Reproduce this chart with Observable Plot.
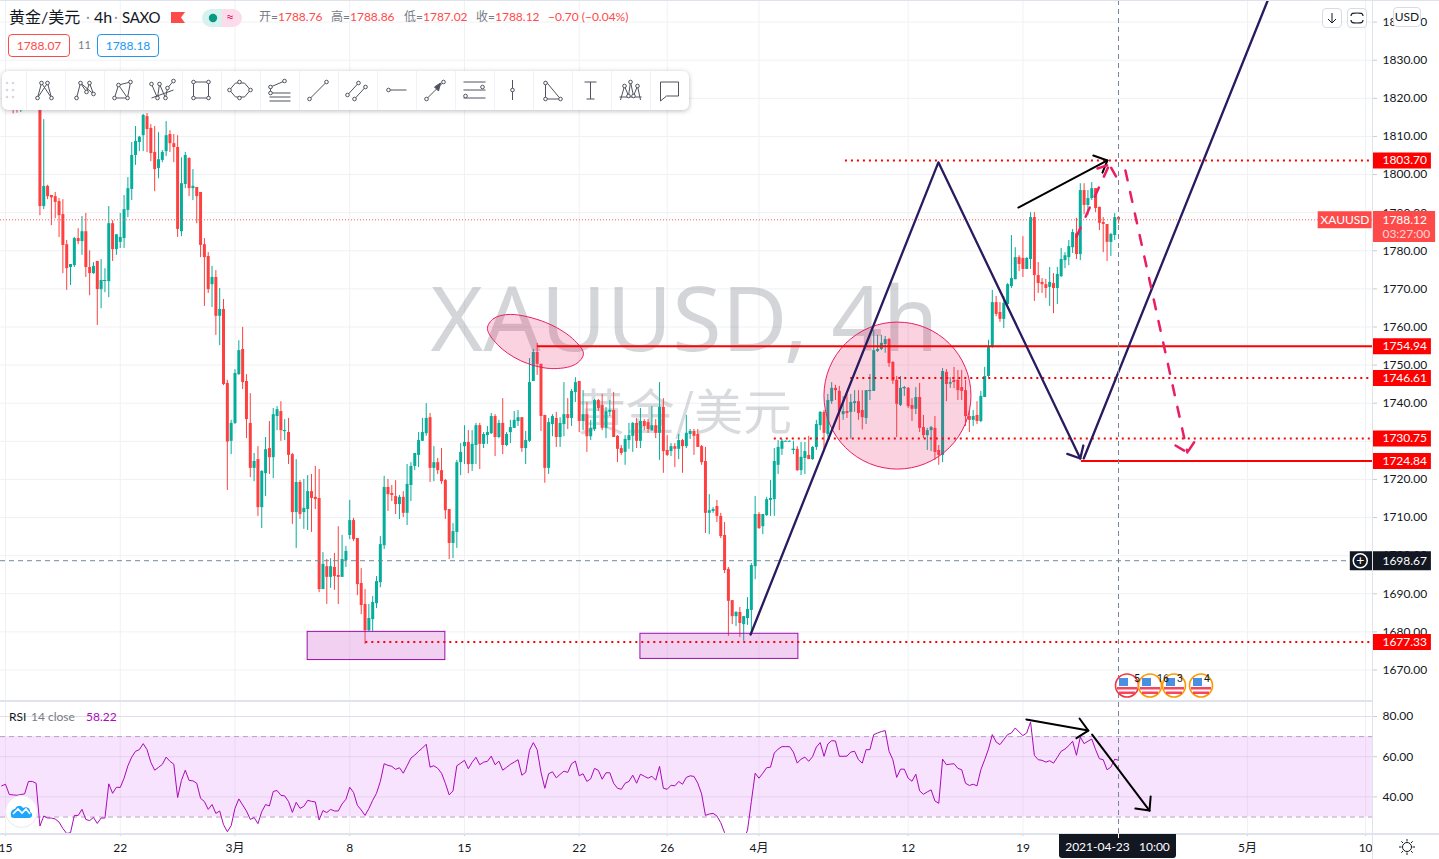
<!DOCTYPE html>
<html lang="zh"><head><meta charset="utf-8">
<script src="https://cdn.jsdelivr.net/npm/d3@7"></script>
<script src="https://cdn.jsdelivr.net/npm/@observablehq/plot@0.6"></script>
<style>
html,body{margin:0;padding:0;background:#fff;width:1439px;height:859px;overflow:hidden;font-family:Lato,"Noto Sans CJK SC",sans-serif;color:#131722}
#c1,#c2{position:absolute;left:0}#c1{top:0}#c2{top:700px}
svg{overflow:visible;font-family:Lato,"Noto Sans CJK SC",sans-serif}
.a{position:absolute;white-space:pre;line-height:1}
.sep{position:absolute;background:#e0e3eb}
#tools{position:absolute;left:2px;top:71px;width:687px;height:39px;background:#fff;border-radius:6px;box-shadow:0 1px 5px rgba(40,45,60,.32)}
.btn{position:absolute;background:#fff;border:1px solid #d8dbe3;border-radius:4px;box-sizing:border-box}
</style></head><body>
<div id="c1"></div><div id="c2"></div>
<div id="ui"></div>
<script>
// ---------- price data: one value per 4h bar
const opens=[1820,1822,1820,1823,1820,1819,1822,1821,1824,1822,
1826,1791.6,1796.9,1794.5,1794.2,1792.9,1789.5,1781.6,1775.6,1776.1,
1783.2,1782.4,1785.0,1775.6,1774.0,1777.2,1769.8,1772.0,1771.9,1787.1,
1780.3,1782.2,1783.2,1790.6,1796.1,1805.0,1808.4,1810.2,1815.2,1812.1,
1805.8,1801.6,1803.7,1806.0,1810.5,1808.1,1807.1,1785.0,1797.4,1804.2,
1796.3,1796.6,1795.3,1781.6,1778.5,1771.1,1773.0,1762.8,1764.6,1745.2,
1730.0,1734.7,1747.5,1754.1,1745.7,1734.7,1722.9,1725.2,1712.6,1721.5,
1728.1,1725.7,1736.5,1737.8,1732.6,1732.3,1726.5,1711.3,1719.2,1711.3,
1712.1,1716.8,1715.3,1715.0,1691.1,1697.1,1694.3,1696.9,1694.8,1694.3,
1698.7,1705.3,1709.2,1704.5,1692.7,1687.2,1680.3,1683.2,1687.4,1692.9,
1702.6,1717.9,1716.3,1715.5,1713.4,1715.3,1711.1,1718.4,1723.4,1726.3,
1730.0,1732.0,1736.2,1722.9,1724.4,1722.3,1719.7,1712.1,1703.2,1706.1,
1724.4,1728.6,1729.7,1723.9,1728.9,1734.1,1729.2,1731.5,1732.0,1736.5,
1731.0,1734.7,1728.9,1732.3,1733.4,1735.2,1736.2,1728.1,1730.0,1745.7,
1753.3,1750.2,1736.8,1722.9,1734.4,1736.0,1731.0,1734.4,1737.0,1736.0,
1742.8,1745.7,1735.2,1737.0,1731.2,1733.1,1740.7,1739.4,1733.4,1737.6,
1738.1,1731.3,1728.1,1727.1,1730.2,1731.3,1734.7,1730.0,1735.2,1734.9,
1732.8,1734.1,1732.1,1738.9,1727.6,1727.3,1728.6,1727.9,1730.2,1728.6,
1731.8,1732.6,1731.8,1728.6,1724.7,1711.1,1711.6,1712.9,1710.3,1705.3,
1696.4,1688.2,1684.0,1685.1,1681.9,1683.5,1685.6,1697.1,1710.8,1707.6,
1710.5,1714.5,1714.7,1723.7,1727.9,1730.0,1730.0,1727.6,1727.9,1722.3,
1725.5,1726.3,1725.2,1728.4,1734.1,1737.6,1731.8,1740.4,1743.9,1743.1,
1737.0,1737.8,1737.6,1739.9,1740.4,1738.1,1736.0,1743.1,1743.1,1753.6,
1754.1,1755.4,1756.7,1750.7,1746.0,1739.4,1743.8,1743.9,1739.4,1738.4,
1741.5,1733.6,1731.5,1732.8,1733.4,1727.6,1726.3,1748.1,1745.0,1746.0,
1746.0,1744.1,1743.3,1736.5,1735.5,1736.8,1735.2,1741.5,1747.0,1754.6,
1766.4,1763.8,1762.0,1765.9,1770.6,1772.4,1778.2,1778.0,1775.1,1777.7,
1788.7,1773.5,1771.7,1771.1,1770.4,1771.4,1770.1,1773.2,1777.4,1778.2,
1780.8,1784.5,1779.0,1795.8,1791.9,1793.7,1796.3,1791.4,1787.4,1786.9,
1782.2,1784.0,1788.76];
const highs=[1824,1823,1825,1824,1822,1823,1824,1825,1825,1827,
1827,1814.4,1797.2,1794.5,1795.3,1793.7,1793.4,1782.7,1776.4,1783.5,
1785.8,1789.0,1789.8,1780.0,1776.9,1777.2,1777.7,1775.3,1791.6,1787.9,
1784.2,1789.8,1794.5,1799.2,1808.4,1812.6,1810.0,1815.8,1816.0,1813.1,
1812.6,1811.0,1806.3,1813.9,1811.5,1810.5,1810.2,1804.4,1805.8,1804.4,
1801.3,1796.6,1795.3,1783.2,1779.5,1775.9,1774.8,1770.1,1767.2,1746.0,
1735.5,1748.8,1756.4,1759.9,1747.5,1742.5,1726.8,1728.6,1722.3,1731.0,
1735.2,1738.6,1739.1,1740.4,1735.7,1736.0,1726.8,1725.2,1719.7,1720.0,
1721.0,1721.3,1723.4,1722.6,1700.8,1699.0,1699.2,1700.6,1707.6,1705.3,
1702.4,1714.5,1709.8,1704.5,1696.6,1691.1,1687.2,1689.3,1694.5,1705.0,
1720.8,1720.0,1718.4,1719.7,1715.8,1716.8,1723.9,1724.4,1726.8,1732.3,
1736.0,1739.9,1737.3,1728.6,1725.5,1728.1,1720.0,1712.1,1708.4,1725.0,
1729.4,1734.1,1732.8,1732.8,1734.7,1734.7,1732.3,1733.9,1737.3,1737.0,
1735.5,1741.2,1732.3,1735.5,1737.8,1738.1,1736.2,1732.6,1751.7,1754.1,
1755.7,1750.2,1736.8,1736.0,1737.0,1737.6,1736.2,1745.4,1741.2,1743.6,
1746.7,1745.7,1743.3,1740.2,1735.5,1741.0,1741.0,1742.3,1738.9,1740.7,
1742.8,1731.5,1728.9,1731.5,1734.7,1734.9,1736.0,1738.6,1735.7,1735.7,
1739.1,1735.7,1745.4,1741.2,1731.5,1729.4,1729.4,1731.8,1730.5,1736.8,
1733.1,1733.1,1733.1,1728.9,1728.4,1716.0,1712.6,1714.5,1711.1,1708.7,
1696.9,1688.2,1685.3,1686.4,1684.0,1689.0,1697.9,1715.5,1711.3,1710.8,
1715.3,1719.7,1728.1,1730.2,1730.5,1730.1,1730.1,1730.0,1728.6,1729.7,
1729.7,1731.3,1728.6,1735.5,1737.8,1738.1,1742.3,1745.4,1744.7,1744.4,
1741.7,1742.3,1742.3,1743.3,1743.3,1743.3,1743.3,1747.5,1759.1,1757.8,
1757.8,1757.5,1757.0,1750.9,1747.0,1747.0,1744.4,1744.1,1741.2,1744.1,
1745.2,1736.8,1733.4,1733.9,1736.5,1728.9,1749.1,1748.8,1746.7,1749.4,
1748.6,1748.6,1746.0,1738.1,1738.1,1740.4,1743.1,1749.4,1756.5,1769.6,
1768.0,1766.4,1768.0,1771.4,1784.0,1780.8,1778.7,1783.7,1778.2,1790.0,
1790.0,1776.9,1772.7,1772.5,1775.6,1774.0,1775.6,1780.6,1779.5,1782.7,
1785.6,1788.5,1797.6,1797.6,1795.8,1797.9,1796.3,1791.4,1788.7,1786.9,
1784.5,1789.8,1788.86];
const lows=[1818,1818,1819,1815.9,1816.1,1816.3,1818,1819,1818,1820,
1789.2,1790.8,1793.4,1786.6,1788.4,1783.5,1774.0,1769.6,1770.9,1775.6,
1781.6,1778.8,1773.0,1768.2,1773.8,1760.4,1764.8,1769.0,1767.7,1777.2,
1778.8,1780.6,1780.6,1788.7,1793.2,1802.4,1806.0,1806.0,1805.8,1803.4,
1795.5,1798.9,1803.1,1804.7,1805.8,1803.1,1783.5,1783.7,1796.3,1794.2,
1793.2,1787.1,1778.2,1765.4,1768.8,1765.1,1757.8,1755.1,1744.6,1717.1,
1726.5,1734.4,1747.3,1743.6,1730.7,1720.5,1719.4,1710.3,1707.1,1715.5,
1721.3,1720.2,1732.8,1730.0,1730.2,1723.9,1708.2,1701.9,1709.5,1706.9,
1706.6,1706.1,1712.1,1690.3,1691.1,1687.2,1691.4,1690.9,1687.2,1694.3,
1696.9,1704.2,1703.7,1689.5,1684.5,1676.7,1680.1,1680.1,1686.1,1691.6,
1701.6,1711.6,1714.2,1710.8,1709.5,1710.0,1707.9,1714.2,1722.3,1723.1,
1730.0,1731.3,1719.2,1719.4,1721.3,1718.7,1709.5,1699.0,1699.2,1701.9,
1721.0,1723.9,1721.5,1722.1,1723.9,1722.6,1728.1,1729.2,1731.8,1726.0,
1730.7,1726.5,1728.6,1729.4,1733.4,1733.9,1727.1,1723.9,1729.7,1745.7,
1747.3,1732.6,1719.0,1721.3,1731.2,1728.4,1728.4,1731.2,1733.1,1733.9,
1740.2,1732.3,1732.8,1727.1,1730.2,1732.6,1737.8,1732.8,1730.7,1736.5,
1731.0,1724.4,1726.3,1723.7,1727.9,1727.1,1728.1,1728.1,1732.8,1732.1,
1732.6,1730.7,1725.0,1721.6,1726.0,1726.0,1723.1,1725.2,1721.6,1728.1,
1730.5,1726.3,1728.4,1723.7,1705.8,1705.5,1711.1,1708.7,1704.5,1695.3,
1678.8,1681.9,1681.4,1678.5,1677.5,1681.7,1679.0,1693.7,1706.9,1705.5,
1710.3,1710.3,1710.3,1721.3,1726.3,1729.9,1729.9,1726.5,1722.1,1721.0,
1721.3,1725.2,1725.0,1727.6,1732.8,1727.6,1731.1,1739.7,1740.7,1732.8,
1735.5,1736.0,1730.6,1737.6,1735.5,1733.0,1734.4,1740.7,1743.1,1753.3,
1753.8,1753.1,1749.4,1744.9,1731.0,1739.1,1741.8,1738.6,1735.2,1737.0,
1732.3,1730.7,1727.6,1727.3,1725.0,1723.7,1724.4,1740.4,1743.9,1743.8,
1740.7,1740.7,1733.9,1732.3,1733.9,1734.4,1734.9,1741.5,1746.7,1754.4,
1762.7,1761.2,1759.6,1764.6,1770.1,1772.4,1774.5,1773.0,1775.1,1775.1,
1766.7,1768.8,1768.8,1767.5,1765.4,1763.5,1765.9,1773.0,1775.3,1776.1,
1779.3,1777.7,1777.4,1789.5,1789.2,1793.2,1790.0,1785.3,1779.5,1777.2,
1778.5,1782.7,1787.02];
const closes=[1822,1820,1823,1820,1819,1822,1821,1824,1822,1826,
1791.6,1796.9,1794.2,1793.9,1792.7,1789.2,1781.4,1775.3,1776.4,1783.2,
1782.4,1785.0,1775.6,1774.0,1775.9,1769.8,1772.2,1772.2,1787.1,1780.3,
1784.2,1783.5,1790.8,1796.3,1805.0,1808.7,1809.8,1815.5,1811.8,1805.5,
1801.3,1803.9,1805.8,1810.2,1808.1,1807.1,1785.6,1797.6,1805.0,1796.3,
1796.9,1794.2,1781.4,1778.2,1769.8,1773.0,1762.8,1764.6,1744.9,1729.8,
1734.7,1747.8,1753.8,1745.4,1735.7,1722.9,1724.7,1712.6,1722.1,1727.8,
1725.7,1737.0,1738.3,1732.8,1732.8,1726.3,1711.3,1719.2,1710.8,1712.4,
1716.8,1715.0,1714.7,1691.1,1697.7,1694.3,1697.1,1694.5,1694.3,1699.0,
1701.1,1709.2,1704.2,1692.4,1686.9,1680.3,1683.5,1687.7,1693.2,1702.9,
1717.9,1716.0,1715.8,1713.4,1715.3,1711.1,1718.7,1723.4,1726.8,1730.2,
1732.3,1736.0,1722.9,1724.4,1722.3,1719.4,1711.8,1703.2,1706.3,1724.4,
1727.1,1729.7,1723.9,1729.2,1734.1,1729.2,1731.8,1732.3,1736.5,1731.0,
1734.7,1728.9,1731.8,1733.6,1735.5,1736.2,1728.1,1730.2,1745.4,1753.3,
1750.2,1736.5,1722.9,1734.9,1736.5,1731.0,1734.7,1737.0,1736.0,1743.1,
1745.4,1735.2,1737.0,1731.2,1733.4,1740.7,1738.6,1733.4,1737.8,1738.1,
1731.0,1727.9,1726.8,1730.5,1731.5,1734.7,1730.0,1735.2,1733.9,1733.1,
1734.1,1732.1,1738.9,1727.3,1726.3,1728.6,1727.9,1730.2,1728.6,1732.1,
1732.6,1731.3,1728.4,1724.4,1711.1,1711.8,1712.1,1710.3,1705.0,1696.1,
1688.0,1684.0,1685.1,1682.2,1684.0,1685.9,1697.4,1710.8,1707.1,1710.8,
1714.7,1715.0,1724.7,1728.4,1730.0,1730.0,1730.0,1727.9,1722.3,1725.8,
1727.3,1725.2,1728.4,1734.4,1737.6,1732.1,1740.7,1743.9,1743.3,1737.8,
1737.8,1737.3,1740.2,1740.4,1737.3,1736.2,1743.3,1743.3,1753.8,1754.1,
1755.7,1756.7,1750.4,1745.8,1739.7,1743.9,1744.1,1739.1,1738.4,1741.5,
1733.4,1731.5,1732.8,1733.6,1727.1,1726.3,1748.3,1744.9,1745.4,1745.7,
1743.3,1743.1,1736.5,1735.5,1736.5,1735.2,1741.8,1747.0,1754.6,1766.4,
1763.3,1762.0,1766.2,1771.1,1772.7,1778.2,1776.4,1775.1,1778.0,1788.7,
1773.5,1771.4,1771.1,1770.1,1771.7,1770.1,1773.8,1777.7,1778.7,1781.1,
1784.8,1779.0,1795.8,1791.9,1793.7,1796.3,1791.1,1787.2,1786.9,1782.2,
1784.3,1788.7,1788.12];
const rsi=[45.5,46.3,41.2,41.0,40.8,41.2,41.5,47.7,47.7,46.8,
25.5,30.5,29.5,29.5,29,27.5,24.3,21.8,22.2,30.8,
30.8,33.8,28.8,28.2,29.8,26.8,29.5,29.5,46.5,41.8,
44.8,44.7,49.3,55.5,59.8,62.7,63.5,66.5,63.5,57.2,
53.3,54.7,56.2,59.8,57.7,56.3,39.7,48.2,53.3,48.2,
48,46.8,39.3,37.7,33.8,36.2,31.8,33,26.2,22.7,
25.7,34.3,39,36,33,28.8,29.7,26.7,32.7,36.2,
35.5,42.7,43.2,40.8,40.5,37.7,32.3,37.3,34.3,35.3,
38.3,37.8,37.5,28.5,33.2,32.2,33.8,33,33,36.5,
38.8,44.8,42.2,35.8,33.5,30.8,34.2,38.3,41.8,47.7,
56.5,55.7,55.2,53.7,54.5,51.8,55.5,59.3,60.8,62.7,
64.3,66.2,54.8,55.5,54.2,51.8,46.8,41,43,55.5,
56.8,58.2,54,57.2,59.7,56,57.3,57.7,60.3,56,
57.8,53.3,54.7,56.2,57.3,58.5,50.8,52.2,63.2,67,
63.5,52.3,44.3,51.5,52.5,49.5,51.2,52.8,52.2,56.5,
57.8,50.5,51.5,47.7,49,54.2,53.2,48.8,52,52,
46.8,44.3,43.8,46.8,47.7,50.8,46.8,51.3,50.3,49.3,
50.3,48.3,55.2,44.3,43.8,45.8,45.5,47.7,46.3,49.7,
50.5,50.2,46.8,41.5,30.8,31.5,31.8,30.5,27.2,22.2,
18.5,13.5,11.8,13.5,18.5,23.5,37.7,51.8,49.3,51.8,
54.5,54.8,61.8,63.8,65,65,65,62.3,56.8,58.8,
59.8,57.7,60,64.8,67,60.2,66.3,68,67.8,60.2,
60.2,60.3,62.3,62.7,58.5,56.8,63.5,63.5,71,71.8,
72.5,73,62.7,58.5,49.7,53.8,53.8,49.3,47.8,51.3,
43,41.3,42.5,43.5,38,36.8,58.8,56,56.3,56.5,
54.2,53.5,46.8,45.7,46.3,45.5,53.5,58.5,63.8,71,
67.3,66,68.5,71,71.8,74.3,72.3,70.5,71.8,77.3,
60.7,58.5,58.2,57.3,58,56.8,59.7,62.7,63.8,65.5,
67.7,60.7,69.8,66.5,67.7,68.8,63.5,59,58.5,53.5,
54.8,58.8,58.22];

// ---------- axes
const priceTicks=[1670,1680,1690,1700,1710,1720,1730,1740,1750,1760,1770,1780,1790,1800,1810,1820,1830,1840];
const rsiTicks=[40,60,80];
const timeTickBars=[1,31,61,91,121,151,174,198,237,267,325.7,356.6];
const timeTickLabels=["15","22","3月","8","15","22","26","4月","12","19","5月","10"];

// ---------- drawn horizontal levels (price, first bar, style)
const levelPrices=[1803.70,1754.94,1746.61,1730.75,1724.84,1677.33];
const levelStarts=[220.6,140.1,222,202,282.3,95.2];
const levelSolid=[false,true,false,false,true,false];
const lastPrice=1788.12, crossPrice=1698.67, crossBar=292;
const barIdx=d3.range(opens.length);
const shownBars=barIdx.slice(1);          // the first bar sits under the toolbar's edge
const upBars=shownBars.filter(i=>closes[i]>=opens[i]), downBars=shownBars.filter(i=>closes[i]<opens[i]);
const flatBars=shownBars.filter(i=>Math.abs(closes[i]-opens[i])<0.35);

// ---------- hand-drawn objects, in (bar, price)
const zigA=[[195.8,1679.3],[244.9,1803.2],[282,1725.5]];
const zigAHead=[[278.6,1726.7],[282,1725.5],[282.8,1728.9]];
const zigB=[[282.9,1725.5],[331,1845.67]];
const blackUp=[[265.8,1791.35],[289.1,1803.7]];
const blackUpHead=[[285.4,1805],[289.1,1803.7],[287.8,1800.5]];
const pinkUp=[[281,1783.7],[289.6,1802.6]];
const pinkUpHead=[[286.5,1801.6],[289.6,1802.6],[291.5,1799.2]];
const pinkDown=[[293.8,1801.06],[310,1727.07]];
const pinkDownHead=[[306.9,1728.9],[310,1727.07],[311.9,1729.95]];
const boxA=[80,116,1672.6,1680], boxB=[167,208.3,1672.9,1679.5];
const ovalOutline=[[127,1759.6],[128.6,1762.2],[133,1763.3],[142.2,1761.2],[149.2,1757],[152.1,1753],[150,1750.2],[143.5,1749.1],[135.6,1751.2],[129.6,1755.4]];
const circleCentre=[234.2,1742];
// RSI pane drawings, in (bar, RSI)
const rsiArrowA=[[267.9,78.5],[284.1,73]], rsiHeadA=[[281.8,79],[284.1,73],[281,69.2]];
const rsiArrowB=[[285.1,71],[300.1,33.2]], rsiHeadB=[[296.4,34.2],[300.1,33.2],[300.4,40.2]];

// ---------- colours
const UP="#04ae9b",DOWN="#ff4040",GRID="#f0f1f5",LEVEL="#ff0000",TAG="#ff4a4a",PURPLE="#2a1a60",PINK="#e91e63",CROSS="#758696",AXIS="#131722";
const X=[-0.307,358.4];                  // bars visible across the pane
const TAGL=358.4,TAGR=373.8,TAGR2=374.9,TXT=361;
const xy={x:d=>d[0],y:d=>d[1]};

const tag=(p,txt,col)=>[
 Plot.ruleY([p],{x1:TAGL,x2:TAGR,stroke:col,strokeWidth:16}),
 Plot.text([txt],{x:TXT,y:()=>p,text:d=>d,fill:"#fff",textAnchor:"start",fontSize:12})];

const main=Plot.plot({
 width:1439,height:700,marginLeft:0,marginRight:67,marginTop:0,marginBottom:0,
 style:{background:"transparent",fontSize:"12px",overflow:"visible"},
 x:{domain:X,axis:null},y:{domain:[1661.99,1845.67],axis:null},
 marks:[
  Plot.ruleY(priceTicks,{stroke:GRID}),
  Plot.ruleX(timeTickBars,{stroke:GRID}),
  Plot.text(["XAUUSD, 4h"],{x:178.5,y:1761.2,text:d=>d,fontSize:90,fill:"#787b86",fillOpacity:.32,fontFamily:"Noto Sans"}),
  Plot.text(["黄金/美元"],{x:178.5,y:1737,text:d=>d,fontSize:49,fill:"#787b86",fillOpacity:.28,fontFamily:"Noto Sans CJK SC"}),
  // candles
  Plot.ruleX(upBars,{x:i=>i,y1:i=>lows[i],y2:i=>highs[i],stroke:UP,strokeWidth:1,clip:true}),
  Plot.ruleX(downBars,{x:i=>i,y1:i=>lows[i],y2:i=>highs[i],stroke:DOWN,strokeWidth:1,clip:true}),
  Plot.ruleX(upBars,{x:i=>i,y1:i=>opens[i],y2:i=>closes[i],stroke:UP,strokeWidth:3,clip:true}),
  Plot.ruleX(downBars,{x:i=>i,y1:i=>opens[i],y2:i=>closes[i],stroke:DOWN,strokeWidth:3,clip:true}),
  Plot.ruleY(flatBars,{y:i=>closes[i],x1:i=>i-.4,x2:i=>i+.4,stroke:i=>closes[i]>=opens[i]?UP:DOWN}),
  // last price
  Plot.ruleY([lastPrice],{stroke:"#ff5a5a",strokeWidth:1,strokeDasharray:"1,2"}),
  // shapes
  Plot.line(ovalOutline,{...xy,curve:"catmull-rom-closed",fill:PINK,fillOpacity:.2,stroke:PINK,strokeWidth:1}),
  Plot.dot([circleCentre],{...xy,r:73.5,fill:PINK,fillOpacity:.2,stroke:PINK,strokeWidth:1}),
  ...[boxA,boxB].map(b=>Plot.rect([b],{x1:d=>d[0],x2:d=>d[1],y1:d=>d[2],y2:d=>d[3],fill:"#c743c7",fillOpacity:.25,stroke:"#9c0fa8",strokeWidth:1})),
  // levels
  Plot.ruleY(levelPrices.map((p,i)=>i).filter(i=>!levelSolid[i]),{y:i=>levelPrices[i],x1:i=>levelStarts[i],x2:X[1],stroke:LEVEL,strokeWidth:2,strokeDasharray:"2,4"}),
  Plot.ruleY(levelPrices.map((p,i)=>i).filter(i=>levelSolid[i]),{y:i=>levelPrices[i],x1:i=>levelStarts[i],x2:X[1],stroke:LEVEL,strokeWidth:2}),
  // lines
  ...[zigA,zigAHead,zigB].map(l=>Plot.line(l,{...xy,stroke:PURPLE,strokeWidth:2.3,clip:true})),
  ...[blackUp,blackUpHead].map(l=>Plot.line(l,{...xy,stroke:"#000",strokeWidth:2})),
  ...[pinkUp,pinkDown].map(l=>Plot.line(l,{...xy,stroke:PINK,strokeWidth:2.5,strokeDasharray:"10,12"})),
  ...[pinkUpHead,pinkDownHead].map(l=>Plot.line(l,{...xy,stroke:PINK,strokeWidth:2.5,strokeDasharray:"10,6"})),
  // crosshair
  Plot.ruleY([crossPrice],{stroke:CROSS,strokeDasharray:"5,4"}),
  Plot.ruleX([crossBar],{stroke:CROSS,strokeDasharray:"5,4"}),
  // axis
  Plot.axisY(priceTicks,{anchor:"right",tickFormat:d3.format(".2f"),tickSize:4,tickPadding:6,label:null,fill:AXIS,stroke:"#c8ccd6",fontSize:12}),
  // tags
  ...levelPrices.flatMap(p=>tag(p,p.toFixed(2),LEVEL)),
  Plot.ruleY([1786.4],{x1:TAGL,x2:TAGR2,stroke:TAG,strokeWidth:31}),
  Plot.ruleY([lastPrice],{x1:344.2,x2:358.3,stroke:TAG,strokeWidth:17}),
  Plot.text(["XAUUSD"],{x:351.2,y:lastPrice,text:d=>d,fill:"#fff",fontSize:12}),
  Plot.text([lastPrice.toFixed(2)],{x:TXT,y:lastPrice,text:d=>d,fill:"#fff",textAnchor:"start",fontSize:12}),
  Plot.text(["03:27:00"],{x:TXT,y:1784.27,text:d=>d,fill:"#ffd5d5",textAnchor:"start",fontSize:12}),
  Plot.ruleY([crossPrice],{x1:352.6,x2:TAGR,stroke:AXIS,strokeWidth:19}),
  Plot.text([crossPrice.toFixed(2)],{x:TXT,y:crossPrice,text:d=>d,fill:"#fff",textAnchor:"start",fontSize:12}),
  Plot.dot([[355.2,crossPrice]],{...xy,r:7,fill:AXIS,stroke:"#fff"}),
  Plot.text(["+"],{x:355.2,y:crossPrice,text:d=>d,fill:"#fff",fontSize:14})
 ]});
document.getElementById("c1").append(main);

const lower=Plot.plot({
 width:1439,height:159,marginLeft:0,marginRight:67,marginTop:0,marginBottom:26,
 style:{background:"transparent",fontSize:"12px",overflow:"visible"},
 x:{domain:X,axis:null},y:{domain:[21.8,87.96],axis:null},
 marks:[
  Plot.ruleY(rsiTicks,{stroke:GRID}),
  Plot.ruleX(timeTickBars,{stroke:GRID}),
  Plot.rectY([[30,70]],{x1:X[0],x2:X[1],y1:d=>d[0],y2:d=>d[1],fill:"#f7e3fd"}),
  Plot.ruleY(rsiTicks,{stroke:"#7c5a90",strokeOpacity:.12}),
  Plot.ruleX(timeTickBars,{stroke:"#7c5a90",strokeOpacity:.08,y1:30,y2:70}),
  Plot.ruleY([30,70],{stroke:"#b9a0c4",strokeDasharray:"5,4"}),
  Plot.line(barIdx.map(i=>[i,rsi[i]]),{...xy,stroke:"#ab09b9",strokeWidth:1,clip:true}),
  Plot.ruleX([crossBar],{stroke:CROSS,strokeDasharray:"5,4",y1:21.8,y2:87.96}),
  ...[rsiArrowA,rsiHeadA,rsiArrowB,rsiHeadB].map(l=>Plot.line(l,{...xy,stroke:"#000",strokeWidth:2})),
  Plot.axisY(rsiTicks,{anchor:"right",tickFormat:d3.format(".2f"),tickSize:4,tickPadding:6,label:null,fill:AXIS,stroke:"#c8ccd6",fontSize:12}),
  Plot.axisX(timeTickBars,{anchor:"bottom",tickSize:3,tickPadding:7,label:null,fill:AXIS,stroke:"#c8ccd6",fontSize:12,tickFormat:(d,i)=>timeTickLabels[i]})
 ]});
document.getElementById("c2").append(lower);

// ---------- page furniture: legends, toolbar, buttons
const ui=document.getElementById("ui");
const add=(html)=>ui.insertAdjacentHTML("beforeend",html);
const T=(x,y,s,txt,col="#131722",extra="")=>add(`<div class="a" style="left:${x}px;top:${y}px;font-size:${s}px;color:${col};${extra}">${txt}</div>`);
[[0,0,1439,1],[0,700,1372,2],[0,833,1439,1.5],[1372,0,1,859]].forEach(([x,y,w,h])=>add(`<div class="sep" style="left:${x}px;top:${y}px;width:${w}px;height:${h}px"></div>`));
T(9,9,16,"黄金/美元");T(94,9,16,"4h");T(122,10,15,"SAXO","#131722","letter-spacing:-.3px;");
T(86,9,15,"·","#9598a1");T(114,9,15,"·","#9598a1");
add(`<svg class="a" style="left:171px;top:12px" width="14" height="11"><path d="M0 0H14L10 5.5L14 11H0Z" fill="#ff4a4a"/></svg>`);
add(`<svg class="a" style="left:202px;top:9px" width="40" height="18"><path d="M9 0H20V18H9A9 9 0 0 1 9 0Z" fill="#d6f1ee"/><path d="M20 0H31A9 9 0 0 1 31 18H20Z" fill="#fcdcea"/><circle cx="11" cy="9" r="4.2" fill="#089981"/></svg>`);
T(226,10,14,"≈","#e91e63");
const RD="#ff4a4a",GY="#787b86";
[[259,"开=","1788.76"],[331,"高=","1788.86"],[404,"低=","1787.02"],[476,"收=","1788.12"]].forEach(([x,l,v])=>T(x,11,12,`<span style="color:${GY}">${l}</span>${v}`,RD));
T(548,11,12,"−0.70 (−0.04%)",RD);
add(`<div class="a" style="left:8px;top:34px;width:62px;height:23px;box-sizing:border-box;border:1px solid #ff4a4a;border-radius:4px;color:#ff4a4a;font-size:12px;text-align:center;line-height:21px">1788.07</div>`);
T(78,39,11,"11",GY);
add(`<div class="a" style="left:97px;top:34px;width:62px;height:23px;box-sizing:border-box;border:1px solid #2196f3;border-radius:4px;color:#2196f3;font-size:12px;text-align:center;line-height:21px">1788.18</div>`);
T(9,711,12,"RSI");T(31,711,12,"14 close",GY);T(86,711,12,"58.22","#ab09b9");

// toolbar
const icons=[
 {l:[[[5,20],[9,5],[19,20],[15,5],[5,20]]],d:[[5,20],[9,5],[19,20],[15,5]]},
 {l:[[[5,20],[9,5],[15,14],[18,5],[22,16],[9,5]]],d:[[5,20],[9,5],[15,14],[18,5],[22,16]]},
 {l:[[[4,20],[8,7],[20,4],[17,20],[4,20]],[[8,7],[17,20]]],d:[[4,20],[8,7],[20,4],[17,20]]},
 {l:[[[2,6],[8,20],[10,6],[16,20],[18,10],[24,3]],[[2,20],[24,12]]],d:[[2,6],[8,20],[10,6],[16,20],[18,10],[24,3]]},
 {l:[[[5,4],[5,20],[20,20],[20,4],[5,4]]],d:[[5,4],[5,20],[20,20],[20,4]]},
 {l:[[[2,12],[8,5],[17,5],[23,12],[17,19],[8,19],[2,12]]],d:[[2,12],[12,4],[23,12],[12,20]]},
 {l:[[[4,9],[18,3]],[[4,9],[4,15]],[[3,15],[24,15]],[[3,19],[24,19]],[[3,23],[24,23]]],d:[[4,9],[18,3],[4,15]]},
 {l:[[[4,21],[21,4]]],d:[[4,21],[21,4]]},
 {l:[[[3,17],[14,5]],[[10,21],[21,9]]],d:[[3,17],[14,5],[10,21],[21,9]]},
 {l:[[[5,12],[23,12]]],d:[[5,12]]},
 {l:[[[4,21],[21,4]]],d:[[4,21],[21,4]],p:"M18 5L12 9L16 13Z"},
 {l:[[[2,4],[24,4]],[[2,12],[24,12]],[[2,20],[24,20]]],d:[[21,9],[4,18]]},
 {l:[[[12,2],[12,22]]],d:[[12,12]]},
 {l:[[[6,3],[6,21],[21,21],[6,3]]],d:[[6,5],[6,21],[21,21]]},
 {l:[[[6,4],[18,4]],[[12,4],[12,21]],[[8,21],[16,21]]],d:[]},
 {l:[[[2,19],[24,19]],[[3,22],[7,8],[11,18],[13,4],[16,18],[20,8],[23,22]]],d:[[7,8],[13,4],[20,8],[11,18],[16,18]]},
 {l:[[[4,4],[22,4],[22,18],[10,18],[4,23],[4,4]]],d:[]}
];
let tb=`<div id="tools"><svg width="687" height="39" style="position:absolute;left:0;top:0">`;
[5,11].forEach(x=>[12,19,26].forEach(y=>tb+=`<circle cx="${x}" cy="${y}" r="1.3" fill="#d5d8df"/>`));
icons.forEach((ic,i)=>{
 const ox=24+i*39;
 if(i) tb+=`<rect x="${ox}" y="0" width="1" height="39" fill="#f0f2f7"/>`;
 tb+=`<g transform="translate(${ox+6.5},7)" fill="none" stroke="#50535e" stroke-width="1">`;
 ic.l.forEach(l=>tb+=`<polyline points="${l.join(" ")}"/>`);
 if(ic.p) tb+=`<path d="${ic.p}" fill="#50535e"/>`;
 ic.d.forEach(([x,y])=>tb+=`<circle cx="${x}" cy="${y}" r="1.8" fill="#fff"/>`);
 tb+=`</g>`;
});
tb+=`<rect x="24" y="0" width="1" height="39" fill="#f0f2f7"/></svg></div>`;
add(tb);

// top right controls
add(`<div class="btn" style="left:1322px;top:8px;width:20px;height:20px"><svg width="18" height="18"><path d="M9 4V14M5 10L9 14L13 10" fill="none" stroke="#131722"/></svg></div>`);
add(`<div class="btn" style="left:1347px;top:8px;width:20px;height:20px"><svg width="18" height="18"><path d="M3 7C3 4 5 4 9 4S15 4 15 7M3 11C3 14 5 14 9 14S15 14 15 11" fill="none" stroke="#131722" stroke-width="1.2"/></svg></div>`);
add(`<div class="btn a" style="left:1393px;top:7px;width:28px;height:20px;font-size:12px;text-align:center;line-height:18px;color:#131722">USD</div>`);

// event flags
let fl=`<svg class="a" style="left:1105px;top:668px" width="120" height="34">`;
[[22,"#f23645",29,"5"],[45,"#ff9800",52,"16"],[69,"#ff9800",72,"3"],[96,"#ff9800",99,"4"]].forEach(([cx,c,tx,t])=>{
 fl+=`<circle cx="${cx}" cy="17.5" r="11.5" fill="#fff" stroke="${c}" stroke-width="1.6"/>`+
  `<path d="M${cx-10} 19h20v2.4h-20zM${cx-8} 23.5h16v2.4h-16z" fill="#f4465e"/><rect x="${cx-8}" y="10" width="9" height="8" fill="#4a90e2"/>`;
});
[[22,"#f23645",29,"5"],[45,"#ff9800",52,"16"],[69,"#ff9800",72,"3"],[96,"#ff9800",99,"4"]].forEach(([cx,c,tx,t])=>{
 fl+=`<text x="${tx}" y="14" font-size="10.5" fill="#131722" text-anchor="start" font-family="Roboto">${t}</text>`;
});
add(fl+`</svg>`);

// logo
add(`<svg class="a" style="left:4px;top:794px" width="36" height="36"><circle cx="17.5" cy="17.5" r="16" fill="#fff" stroke="#e8e9ec"/><path d="M7 22C6 17 9 15 11 15C13 11 17 11 19 14C23 12 27 15 26 18C29 19 29 24 25 24H10C8 24 7 23 7 22Z" fill="#1ea7fd"/><path d="M9 20L14 15L18 19L22 15L26 20" fill="none" stroke="#fff" stroke-width="1.6"/></svg>`);

// time tag
add(`<div class="a" style="left:1059px;top:834px;width:117px;height:24px;background:#131722;border-radius:0 0 3px 3px;color:#fff;font-size:12px;text-align:center;line-height:25px">2021-04-23   10:00</div>`);
add(`<div class="a" style="left:1118px;top:834px;width:1px;height:4px;background:#fff"></div>`);
// settings
add(`<svg class="a" style="left:1398px;top:838px" width="18" height="18"><circle cx="9" cy="9" r="4.5" fill="none" stroke="#131722"/><path d="M9 1V3.5M9 14.5V17M1 9H3.5M14.5 9H17M3.3 3.3L5 5M13 13L14.7 14.7M3.3 14.7L5 13M13 5L14.7 3.3" stroke="#131722"/></svg>`);
</script>
</body></html>
